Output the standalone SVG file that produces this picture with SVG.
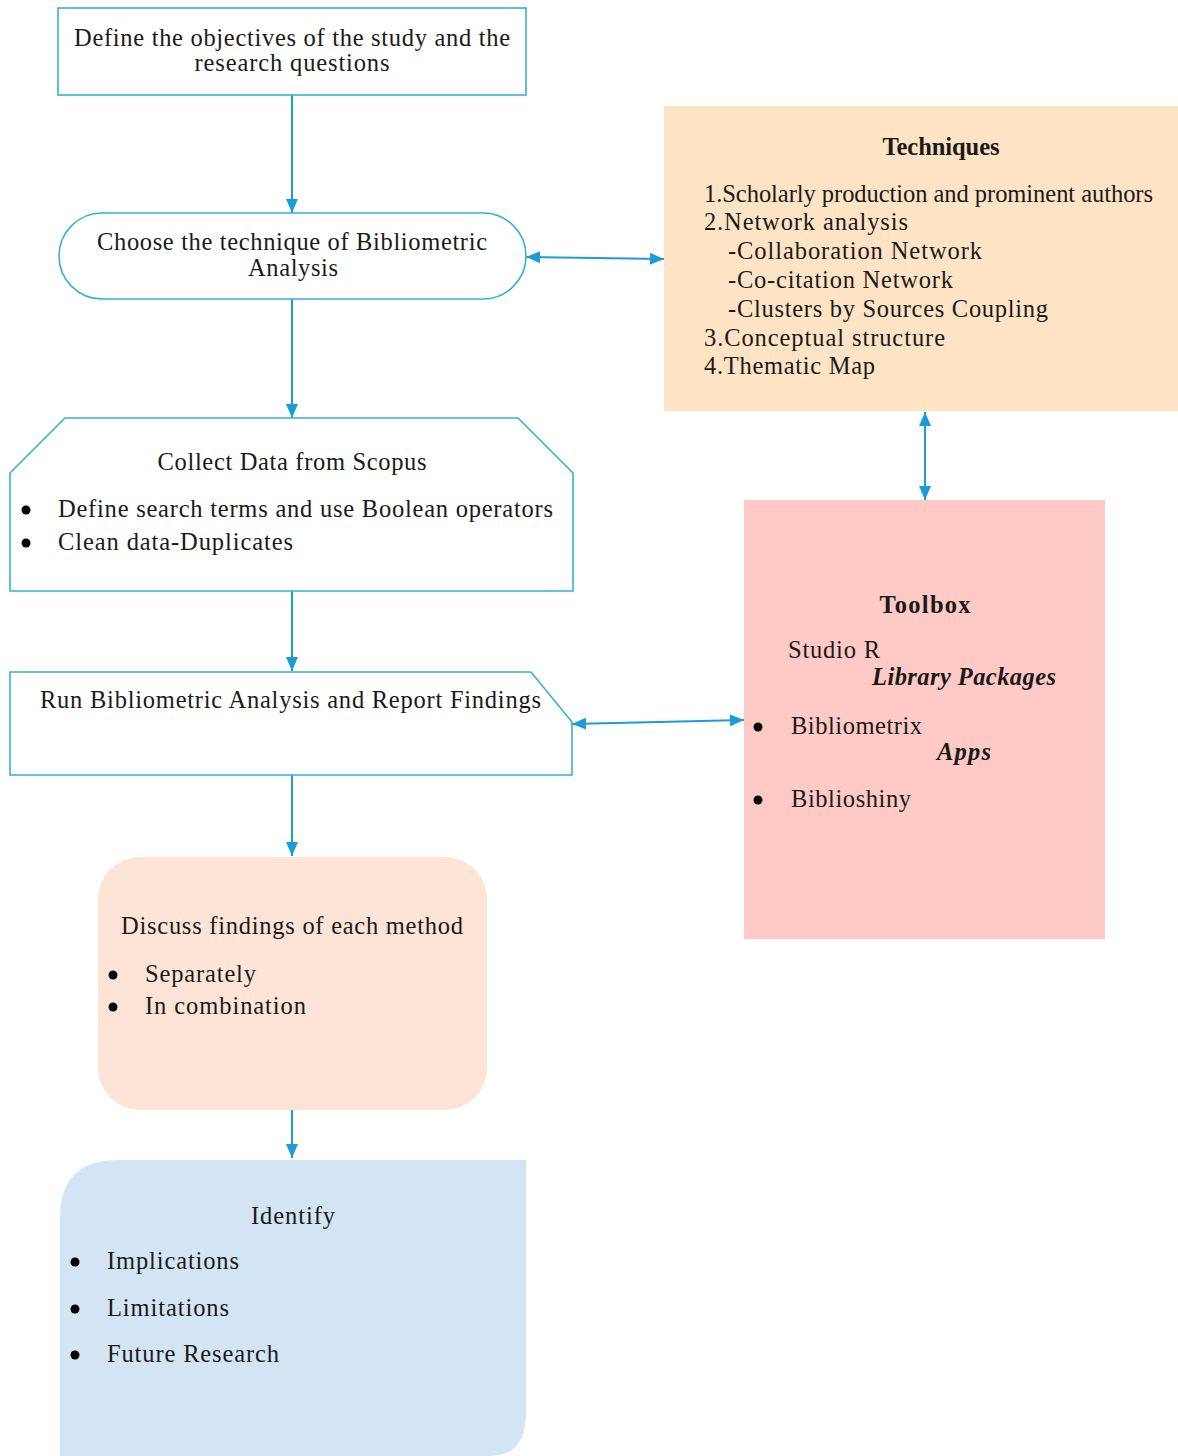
<svg xmlns="http://www.w3.org/2000/svg" width="1178" height="1456" viewBox="0 0 1178 1456">
<style>
text{font-family:"Liberation Serif","Times New Roman",serif;font-size:24.5px;fill:#1a1a1a}
.c{text-anchor:middle}
.b{font-weight:bold}
.bi{font-weight:bold;font-style:italic}
.box{fill:#fff;stroke:#3aaed8;stroke-width:1.6}
.conn{stroke:#1e9bd7;stroke-width:2;fill:none}
</style>
<defs>
<marker id="ah" viewBox="0 0 14 12" refX="14" refY="6" markerWidth="14" markerHeight="12" markerUnits="userSpaceOnUse" orient="auto-start-reverse">
<path d="M0,0 L14,6 L0,12 Z" fill="#1e9bd7"/>
</marker>
</defs>
<rect width="1178" height="1456" fill="#fff"/>

<g id="connectors">
<line class="conn" x1="292" y1="95" x2="292" y2="213" marker-end="url(#ah)"/>
<line class="conn" x1="292" y1="299" x2="292" y2="418" marker-end="url(#ah)"/>
<line class="conn" x1="292" y1="591" x2="292" y2="671" marker-end="url(#ah)"/>
<line class="conn" x1="292" y1="775" x2="292" y2="856" marker-end="url(#ah)"/>
<line class="conn" x1="292" y1="1110" x2="292" y2="1158" marker-end="url(#ah)"/>
<line class="conn" x1="526" y1="257" x2="664" y2="259" marker-start="url(#ah)" marker-end="url(#ah)"/>
<line class="conn" x1="925" y1="412" x2="925" y2="500" marker-start="url(#ah)" marker-end="url(#ah)"/>
<line class="conn" x1="572" y1="724" x2="744" y2="720" marker-start="url(#ah)" marker-end="url(#ah)"/>
</g>

<g id="objectives">
<rect class="box" x="58" y="8" width="468" height="87"/>
<text class="c" x="292" y="46" textLength="436">Define the objectives of the study and the</text>
<text class="c" x="292" y="71" textLength="195">research questions</text>
</g>

<g id="choose">
<rect class="box" x="59" y="213" width="467" height="86" rx="43" ry="43"/>
<text class="c" x="292" y="250" textLength="390">Choose the technique of Bibliometric</text>
<text class="c" x="293" y="276" textLength="90">Analysis</text>
</g>

<g id="techniques">
<rect x="664" y="106" width="514" height="305" fill="#fee3c5"/>
<text class="c b" x="941" y="155" textLength="117">Techniques</text>
<text x="704" y="202" textLength="449">1.Scholarly production and prominent authors</text>
<text x="704" y="230" textLength="204">2.Network analysis</text>
<text x="728" y="259" textLength="254">-Collaboration Network</text>
<text x="728" y="288" textLength="225">-Co-citation Network</text>
<text x="728" y="317" textLength="320">-Clusters by Sources Coupling</text>
<text x="704" y="346" textLength="241">3.Conceptual structure</text>
<text x="704" y="374" textLength="171">4.Thematic Map</text>
</g>

<g id="collect">
<polygon class="box" points="10,473 65,418 518,418 573,473 573,591 10,591"/>
<text class="c" x="292" y="470" textLength="269">Collect Data from Scopus</text>
<circle cx="26" cy="510" r="4.5" fill="#000"/>
<text x="58" y="517" textLength="495">Define search terms and use Boolean operators</text>
<circle cx="26" cy="543" r="4.5" fill="#000"/>
<text x="58" y="550" textLength="235">Clean data-Duplicates</text>
</g>

<g id="run">
<polygon class="box" points="10,672 531,672 572,722 572,775 10,775"/>
<text x="40" y="708" textLength="501">Run Bibliometric Analysis and Report Findings</text>
</g>

<g id="toolbox">
<rect x="744" y="500" width="361" height="439" fill="#ffc9c5"/>
<text class="c b" x="925" y="613" textLength="91">Toolbox</text>
<text x="788" y="658" textLength="92">Studio R</text>
<text class="bi" x="872" y="685" textLength="184">Library Packages</text>
<circle cx="758" cy="727" r="4.5" fill="#000"/>
<text x="791" y="734" textLength="131">Bibliometrix</text>
<text class="bi" x="937" y="760" textLength="54">Apps</text>
<circle cx="758" cy="800" r="4.5" fill="#000"/>
<text x="791" y="807" textLength="120">Biblioshiny</text>
</g>

<g id="discuss">
<rect x="98" y="857" width="389" height="253" rx="42" ry="42" fill="#fde4d6"/>
<text class="c" x="292" y="934" textLength="342">Discuss findings of each method</text>
<circle cx="113" cy="975" r="4.5" fill="#000"/>
<text x="145" y="982" textLength="111">Separately</text>
<circle cx="113" cy="1007" r="4.5" fill="#000"/>
<text x="145" y="1014" textLength="161">In combination</text>
</g>

<g id="identify">
<path d="M60,1456 L60,1218 Q60,1160 118,1160 L526,1160 L526,1412 Q526,1456 490,1456 Z" fill="#d3e5f4"/>
<text class="c" x="293" y="1224" textLength="84">Identify</text>
<circle cx="75" cy="1262" r="4.5" fill="#000"/>
<text x="107" y="1269" textLength="132">Implications</text>
<circle cx="75" cy="1309" r="4.5" fill="#000"/>
<text x="107" y="1316" textLength="122">Limitations</text>
<circle cx="75" cy="1355" r="4.5" fill="#000"/>
<text x="107" y="1362" textLength="172">Future Research</text>
</g>
</svg>
